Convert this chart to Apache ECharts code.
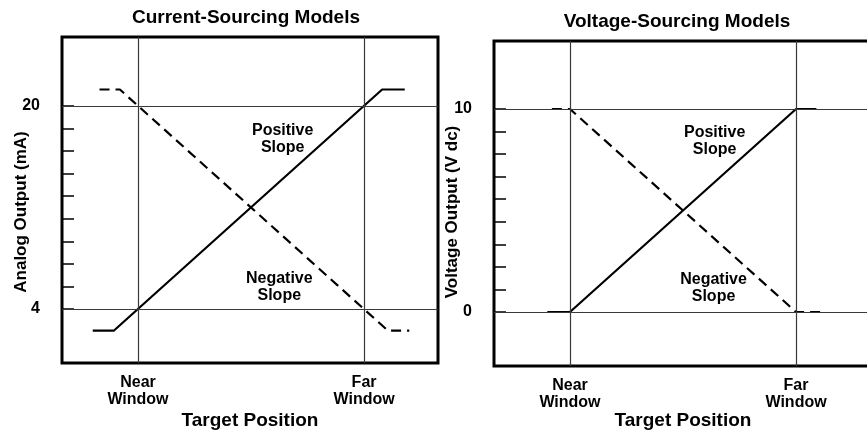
<!DOCTYPE html>
<html>
<head>
<meta charset="utf-8">
<title>analog output</title>
<style>
  body { margin: 0; padding: 0; background: #fff; }
  #main { width: 867px; height: 433px; }
</style>
</head>
<body>
<div id="main"></div>
<script src="https://cdn.jsdelivr.net/npm/echarts@6/dist/echarts.min.js"></script>
<script>
// x = target position, near window at 0, far window at 100
var posCurrent = [[-20, 2.3], [-10.6, 2.3], [108, 21.3], [118, 21.3]];
var negCurrent = [[-17, 21.3], [-8, 21.3], [110.5, 2.3], [120, 2.3]];
var posVoltage = [[-10, 0], [0, 0], [100, 10], [109, 10]];
var negVoltage = [[-8, 10], [0, 10], [100, 0], [111, 0]];

var windowPos = [0, 100];
var windowNames = ['Near\nWindow', 'Far\nWindow'];
var currentRefs = [4, 20];
var voltageRefs = [0, 10];
var currentTicks = [4, 5.78, 7.56, 9.33, 11.11, 12.89, 14.67, 16.44, 18.22, 20];
var voltageTicks = [0, 1.11, 2.22, 3.33, 4.44, 5.56, 6.67, 7.78, 8.89, 10];
var currentNotes = [[64, 17.4, 'Positive\nSlope'], [62.5, 5.7, 'Negative\nSlope']];
var voltageNotes = [[64, 8.4, 'Positive\nSlope'], [63.5, 1.2, 'Negative\nSlope']];

var FONT = 'Liberation Sans, Arial, sans-serif';
var chart = echarts.init(document.getElementById('main'));

function refLines(xs, ys) {
	var d = [];
	xs.forEach(function (v) { d.push({ xAxis: v }); });
	ys.forEach(function (v) { d.push({ yAxis: v }); });
	return {
		silent: true,
		symbol: 'none',
		label: { show: false },
		lineStyle: { color: '#3a3a3a', width: 1.2, type: 'solid' },
		data: d
	};
}

function xAxisFor(idx, min, max, gap) {
	return {
		type: 'value', gridIndex: idx, min: min, max: max,
		splitLine: { show: false },
		axisLine: { show: false, onZero: false },
		axisTick: { show: false },
		axisLabel: {
			customValues: windowPos,
			formatter: function (v) { return windowNames[windowPos.indexOf(v)]; },
			margin: 11,
			color: '#000', fontFamily: FONT, fontWeight: 'bold', fontSize: 16, lineHeight: 17
		},
		name: 'Target Position',
		nameLocation: 'middle',
		nameGap: gap,
		nameMoveOverlap: false,
		nameTextStyle: { color: '#000', fontFamily: FONT, fontWeight: 'bold', fontSize: 19 }
	};
}

function yAxisFor(idx, min, max, ticks, labels) {
	return {
		type: 'value', gridIndex: idx, min: min, max: max,
		splitLine: { show: false },
		axisLine: { show: false, onZero: false },
		axisTick: {
			show: true, inside: true, length: 12, customValues: ticks,
			lineStyle: { color: '#000', width: 1.5 }
		},
		axisLabel: {
			customValues: labels, margin: 22,
			color: '#000', fontFamily: FONT, fontWeight: 'bold', fontSize: 16
		}
	};
}

function lineSeries(idx, data, dashed, marks) {
	var s = {
		type: 'line', xAxisIndex: idx, yAxisIndex: idx,
		data: data, showSymbol: false, silent: true,
		lineStyle: { color: '#000', width: 2.2, type: dashed ? [10, 6] : 'solid' },
		z: 3
	};
	if (marks) s.markLine = marks;
	return s;
}

function noteSeries(idx, notes) {
	return {
		type: 'scatter', xAxisIndex: idx, yAxisIndex: idx,
		data: notes, symbolSize: 0, silent: true,
		itemStyle: { opacity: 1 },
		label: {
			show: true, position: 'inside', opacity: 1,
			formatter: function (p) { return p.data[2]; },
			color: '#000', fontFamily: FONT, fontWeight: 'bold', fontSize: 16, lineHeight: 17
		}
	};
}

chart.setOption({
	animation: false,
	backgroundColor: '#fff',
	grid: [
		{ left: 62, top: 37, width: 376, height: 326, show: true, borderColor: '#000', borderWidth: 3, containLabel: false, outerBoundsMode: 'none' },
		{ left: 494, top: 41, width: 378, height: 325, show: true, borderColor: '#000', borderWidth: 3, containLabel: false, outerBoundsMode: 'none' }
	],
	xAxis: [xAxisFor(0, -33.6, 132.7, 48), xAxisFor(1, -33.6, 133.6, 45)],
	yAxis: [
		yAxisFor(0, -0.26, 25.44, currentTicks, currentRefs),
		yAxisFor(1, -2.66, 13.35, voltageTicks, voltageRefs)
	],
	series: [
		lineSeries(0, posCurrent, false, refLines(windowPos, currentRefs)),
		lineSeries(0, negCurrent, true),
		noteSeries(0, currentNotes),
		lineSeries(1, posVoltage, false, refLines(windowPos, voltageRefs)),
		lineSeries(1, negVoltage, true),
		noteSeries(1, voltageNotes)
	],
	graphic: [
		{ type: 'text', x: 246, y: 18, style: { text: 'Current-Sourcing Models', font: 'bold 19px ' + FONT, fill: '#000', textAlign: 'center', textVerticalAlign: 'middle' } },
		{ type: 'text', x: 677, y: 22, style: { text: 'Voltage-Sourcing Models', font: 'bold 19px ' + FONT, fill: '#000', textAlign: 'center', textVerticalAlign: 'middle' } },
		{ type: 'text', x: 21, y: 212, rotation: Math.PI / 2, style: { text: 'Analog Output (mA)', font: 'bold 17px ' + FONT, fill: '#000', textAlign: 'center', textVerticalAlign: 'middle' } },
		{ type: 'text', x: 452, y: 212, rotation: Math.PI / 2, style: { text: 'Voltage Output (V dc)', font: 'bold 17px ' + FONT, fill: '#000', textAlign: 'center', textVerticalAlign: 'middle' } }
	]
});

window.addEventListener('resize', function () { chart.resize(); });
</script>
</body>
</html>
